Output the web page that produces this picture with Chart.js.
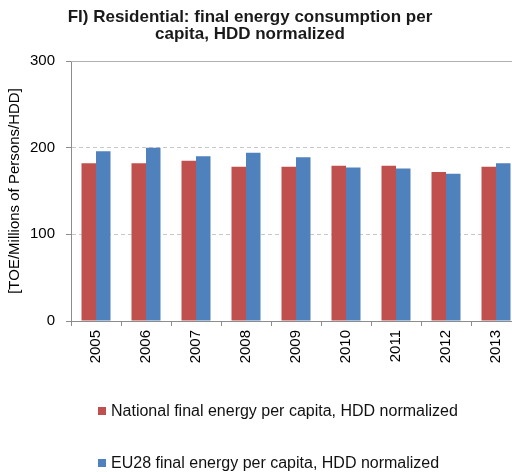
<!DOCTYPE html>
<html>
<head>
<meta charset="utf-8">
<script src="https://cdn.jsdelivr.net/npm/chart.js@4.4.1/dist/chart.umd.min.js"></script>
<style>
  html, body { margin: 0; padding: 0; background: #fff; overflow: hidden; }
  #wrap { position: relative; width: 512px; height: 472px; overflow: hidden; }
  #chartBox { position: absolute; left: 0; top: 0; width: 521px; height: 472px; }
  #title {
    position: absolute; left: 30px; width: 440px; top: 8px;
    font: bold 17px "Liberation Sans", Arial, sans-serif; color: #1a1a1a;
    text-align: center; line-height: 17px;
  }
  .leg {
    position: absolute; left: 98px;
    font: 16px "Liberation Sans", Arial, sans-serif; color: #111;
    white-space: nowrap; line-height: 18px;
  }
  .leg span {
    display: inline-block; width: 8px; height: 8px; margin-right: 5px;
    vertical-align: 1px;
  }
</style>
</head>
<body>
<div id="wrap">
  <div id="chartBox"><canvas id="graphCanvas"></canvas></div>
  <div id="title">FI) Residential: final energy consumption per<br>capita, HDD normalized</div>
  <div class="leg" style="top:402px"><span style="background:#C0504D"></span>National final energy per capita, HDD normalized</div>
  <div class="leg" style="top:454px"><span style="background:#4F81BD"></span>EU28 final energy per capita, HDD normalized</div>
</div>
<script>
var years = ['2005', '2006', '2007', '2008', '2009', '2010', '2011', '2012', '2013'];
var nationalValues = [182, 182, 185, 178, 178, 179, 179, 172, 178];
var eu28Values = [196, 200, 190, 194, 189, 177, 176, 170, 182];
var yTicks = [0, 100, 200, 300];

var tickFont = { family: 'Liberation Sans, Arial, sans-serif', size: 15 };

// solid border line at the top of the plot
var topLine = {
    id: 'topLine',
    afterDatasetsDraw: function (chart) {
        var ctx = chart.ctx;
        var area = chart.chartArea;
        ctx.save();
        ctx.strokeStyle = '#b0b0b0';
        ctx.lineWidth = 1;
        ctx.beginPath();
        ctx.moveTo(area.left, area.top + 0.5);
        ctx.lineTo(area.right, area.top + 0.5);
        ctx.stroke();
        ctx.restore();
    }
};

var chartdata = {
    labels: years,
    datasets: [
        {
            label: 'National final energy per capita, HDD normalized',
            backgroundColor: '#C0504D',
            data: nationalValues
        },
        {
            label: 'EU28 final energy per capita, HDD normalized',
            backgroundColor: '#4F81BD',
            data: eu28Values
        }
    ]
};

var barGraph = new Chart(document.getElementById('graphCanvas'), {
    type: 'bar',
    data: chartdata,
    plugins: [topLine],
    options: {
        responsive: true,
        maintainAspectRatio: false,
        animation: false,
        layout: { padding: { top: 61, right: 0, bottom: 0, left: 0 } },
        datasets: { bar: { categoryPercentage: 0.58, barPercentage: 1 } },
        plugins: {
            legend: { display: false },
            title: { display: false },
            tooltip: { enabled: false }
        },
        scales: {
            x: {
                grid: {
                    offset: true,
                    drawOnChartArea: false,
                    tickLength: 5,
                    tickColor: '#8c8c8c'
                },
                border: { color: '#8c8c8c' },
                ticks: {
                    font: tickFont,
                    color: '#000',
                    maxRotation: 90,
                    minRotation: 90,
                    padding: 4
                },
                afterFit: function (scale) { scale.height = 151; }
            },
            y: {
                min: 0,
                max: 300,
                afterBuildTicks: function (scale) {
                    scale.ticks = yTicks.map(function (v) { return { value: v }; });
                },
                grid: {
                    color: '#c8c8c8',
                    tickColor: '#8c8c8c',
                    tickLength: 5
                },
                border: { color: '#8c8c8c', dash: [4, 3] },
                ticks: { font: tickFont, color: '#000', padding: 11 },
                title: {
                    display: true,
                    text: '[TOE/Millions of Persons/HDD]',
                    font: tickFont,
                    color: '#000',
                    padding: { top: 6, bottom: 0 }
                },
                afterFit: function (scale) { scale.width = 71; }
            }
        }
    }
});
</script>
</body>
</html>
